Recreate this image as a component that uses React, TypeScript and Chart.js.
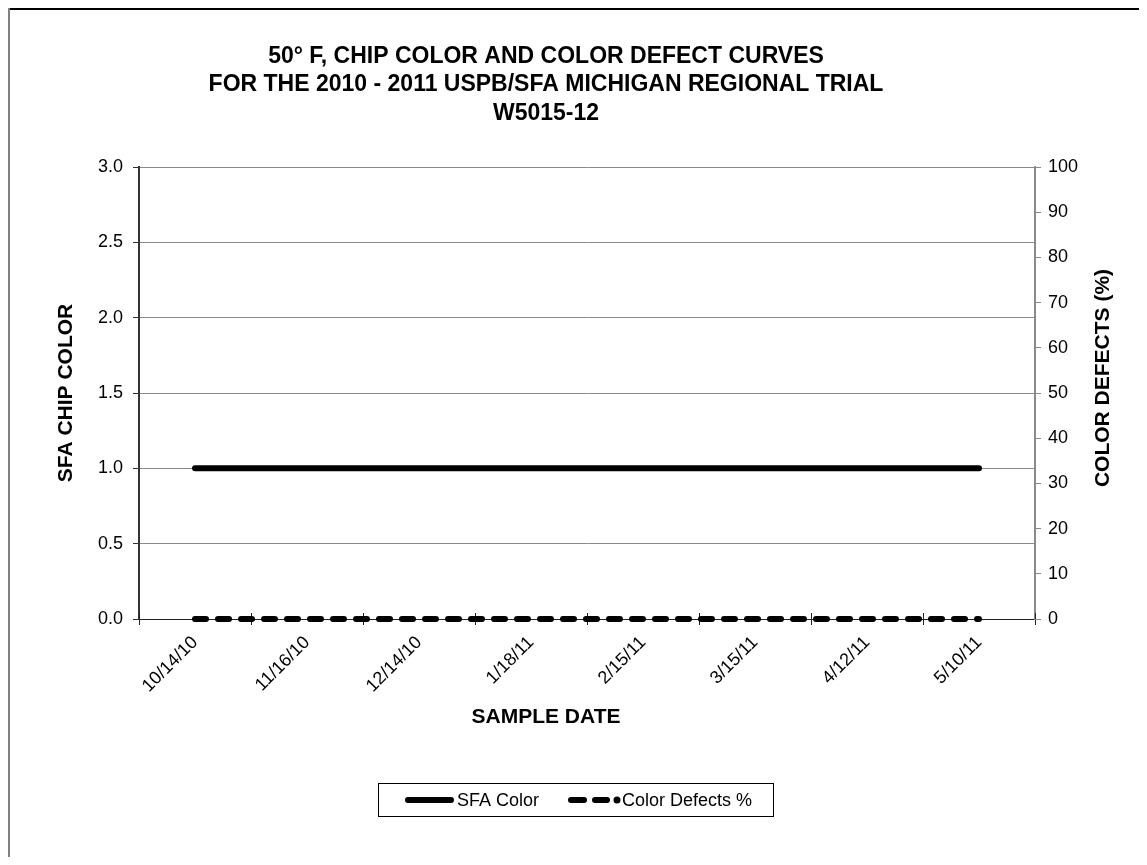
import React, { useEffect, useRef } from "react";
import { Chart, registerables } from "chart.js";

Chart.register(...registerables);

const categories = ["10/14/10", "11/16/10", "12/14/10", "1/18/11", "2/15/11", "3/15/11", "4/12/11", "5/10/11"];
const sfaColor = [1, 1, 1, 1, 1, 1, 1, 1];
const colorDefects = [0, 0, 0, 0, 0, 0, 0, 0];
const titleLines = [
  "50° F, CHIP COLOR AND COLOR DEFECT CURVES",
  "FOR THE 2010 - 2011 USPB/SFA MICHIGAN REGIONAL TRIAL",
  "W5015-12",
];
const leftAxisTitle = "SFA CHIP COLOR";
const rightAxisTitle = "COLOR DEFECTS (%)";
const xAxisTitle = "SAMPLE DATE";
const seriesNames = ["SFA Color", "Color Defects %"];

const FONT = "'Liberation Sans', Arial, sans-serif";
const W = 1131;
const H = 849;

const decorPlugin = {
  id: "decor",
  beforeDatasetsDraw(chart: any) {
    const { ctx, chartArea } = chart;
    const n = categories.length;
    const w = (chartArea.right - chartArea.left) / n;
    ctx.save();
    ctx.strokeStyle = "#222";
    ctx.lineWidth = 1;
    for (let k = 0; k <= n; k++) {
      const x = Math.round(chartArea.left + k * w) + 0.5;
      ctx.beginPath();
      ctx.moveTo(x, chartArea.bottom - 6);
      ctx.lineTo(x, chartArea.bottom);
      ctx.stroke();
    }
    ctx.restore();
  },
  afterDraw(chart: any) {
    const { ctx } = chart;
    ctx.save();
    // outer frame (top / left)
    ctx.fillStyle = "#000";
    ctx.fillRect(0, 0, W, 2);
    ctx.fillStyle = "#808080";
    ctx.fillRect(0, 0, 2, H);

    // title
    ctx.fillStyle = "#000";
    ctx.font = `bold 23px ${FONT}`;
    ctx.textAlign = "center";
    ctx.textBaseline = "middle";
    const ty = [49, 77, 106];
    titleLines.forEach((t, i) => ctx.fillText(t, 538, ty[i]));

    // x axis title
    ctx.font = `bold 21px ${FONT}`;
    ctx.fillText(xAxisTitle, 538, 709);

    // right axis title
    ctx.save();
    ctx.translate(1095, 370);
    ctx.rotate(-Math.PI / 2);
    ctx.fillText(rightAxisTitle, 0, 0);
    ctx.restore();

    // legend
    const lx = 370, ly = 775, lw = 395, lh = 33;
    ctx.strokeStyle = "#000";
    ctx.lineWidth = 1;
    ctx.strokeRect(lx + 0.5, ly + 0.5, lw, lh);
    const cy = ly + 17;
    ctx.lineWidth = 6;
    ctx.lineCap = "round";
    ctx.beginPath();
    ctx.moveTo(400, cy);
    ctx.lineTo(443, cy);
    ctx.stroke();
    ctx.beginPath();
    ctx.moveTo(563, cy);
    ctx.lineTo(576, cy);
    ctx.moveTo(587, cy);
    ctx.lineTo(599, cy);
    ctx.stroke();
    ctx.beginPath();
    ctx.arc(609, cy, 3.5, 0, Math.PI * 2);
    ctx.fillStyle = "#000";
    ctx.fill();
    ctx.font = `18px ${FONT}`;
    ctx.textAlign = "left";
    ctx.fillText(seriesNames[0], 449, cy + 1);
    ctx.fillText(seriesNames[1], 614, cy + 1);
    ctx.restore();
  },
};

export default function App() {
  const ref = useRef<HTMLCanvasElement>(null);
  useEffect(() => {
    if (!ref.current) return;
    const chart = new Chart(ref.current, {
      type: "line",
      data: {
        labels: categories,
        datasets: [
          {
            label: seriesNames[0],
            data: sfaColor,
            borderColor: "#000",
            backgroundColor: "#000",
            borderWidth: 6,
            borderCapStyle: "round",
            borderJoinStyle: "round",
            pointRadius: 0,
            yAxisID: "y",
            clip: false as any,
          },
          {
            label: seriesNames[1],
            data: colorDefects,
            borderColor: "#000",
            backgroundColor: "#000",
            borderWidth: 6,
            borderDash: [11, 12],
            borderCapStyle: "round",
            pointRadius: 0,
            yAxisID: "y1",
            clip: false as any,
          },
        ],
      },
      options: {
        responsive: false,
        animation: false,
        layout: { padding: { top: 159, bottom: H - 726, left: 0, right: 0 } },
        plugins: {
          legend: { display: false },
          title: { display: false },
          tooltip: { enabled: false },
        },
        scales: {
          x: {
            type: "category",
            offset: true,
            afterFit: (s: any) => { s.height = 115; },
            grid: {
              offset: true,
              drawOnChartArea: false,
              drawTicks: true,
              tickLength: 6,
              color: "#222",
              tickColor: "#222",
            },
            border: { display: true, color: "#222", width: 1 },
            ticks: {
              color: "#000",
              font: { family: FONT, size: 18 },
              minRotation: 45,
              maxRotation: 45,
              autoSkip: false,
              padding: 7,
            },
            title: { display: false },
          },
          y: {
            position: "left",
            min: 0,
            max: 3,
            afterFit: (s: any) => { s.width = 131; },
            grid: {
              color: "#8a8a8a",
              tickColor: "#333",
              tickLength: 6,
              lineWidth: 1,
            },
            border: { display: true, color: "#333", width: 2 },
            ticks: {
              stepSize: 0.5,
              color: "#000",
              font: { family: FONT, size: 18 },
              padding: 10,
              callback: (v: any) => Number(v).toFixed(1),
            },
            title: {
              display: true,
              text: leftAxisTitle,
              color: "#000",
              font: { family: FONT, size: 21, weight: "bold" },
              padding: { top: 46, bottom: 0 },
            },
          },
          y1: {
            position: "right",
            min: 0,
            max: 100,
            afterFit: (s: any) => { s.width = W - 1027; },
            grid: {
              drawOnChartArea: false,
              color: "#8a8a8a",
              tickColor: "#8a8a8a",
              tickLength: 6,
            },
            border: { display: true, color: "#8a8a8a", width: 2 },
            ticks: {
              stepSize: 10,
              color: "#000",
              font: { family: FONT, size: 18 },
              padding: 7,
            },
          },
        },
      },
      plugins: [decorPlugin],
    });
    return () => chart.destroy();
  }, []);
  return (
    <div style={{ width: W, height: H }}>
      <canvas ref={ref} width={W} height={H} style={{ display: "block" }} />
    </div>
  );
}
